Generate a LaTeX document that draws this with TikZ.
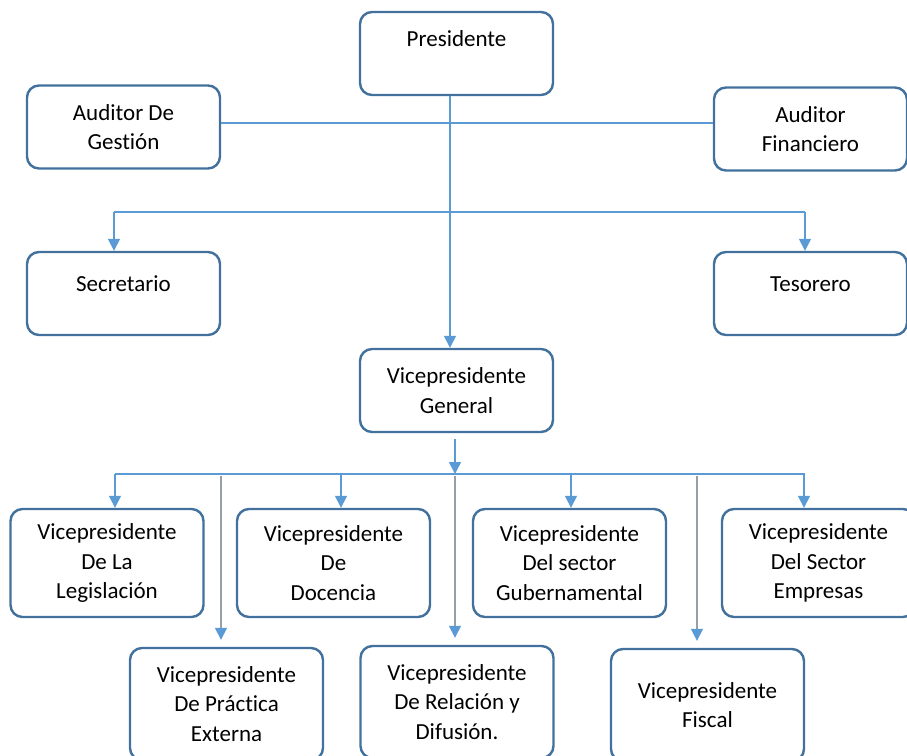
\documentclass[tikz,border=0pt]{standalone}
\usepackage{fontspec}
\setmainfont{Carlito}[Ligatures=NoCommon]
\usetikzlibrary{arrows.meta}
\definecolor{boxblue}{RGB}{65,113,156}
\definecolor{linkblue}{RGB}{91,155,213}
\definecolor{linkgray}{RGB}{150,158,168}
\newcommand{\widthbox}{96.5pt}
\newcommand{\heightbox}{41.5pt}
\newcommand{\heightvp}{54pt}
\newcommand{\heightvplow}{56pt}
\tikzset{
    org/.style={draw=boxblue, line width=1.2pt, rounded corners=6pt, fill=white,
        align=center, inner sep=0pt, minimum width=\widthbox, minimum height=\heightbox,
        font=\fontsize{11.5}{14.75}\selectfont},
    vp/.style={org, minimum height=\heightvp},
    vplow/.style={org, minimum height=\heightvplow},
    link/.style={linkblue, line width=0.75pt},
    linkarrow/.style={link, -{Triangle[width=6pt, length=6pt]}},
    droparrow/.style={link, draw=linkgray, -{Triangle[width=6pt, length=6pt, color=linkblue]}}
}
\begin{document}
\begin{tikzpicture}[x=0.5pt, y=-0.5pt]
    \useasboundingbox (0,0) rectangle (907,756);
    \clip (0,0) rectangle (907,756);

    % top of the chart
    \node[org] (pres) at (456.5,53.5) {Presidente\\ \mbox{}};
    \node[org] (agest) at (123.5,127) {Auditor De\\Gestión};
    \node[org] (afin) at (810.5,129) {Auditor\\Financiero};
    \node[org] (sec) at (123.5,293.5) {Secretario\\[-5pt] \mbox{}};
    \node[org] (tes) at (810.5,293.5) {Tesorero\\[-5pt] \mbox{}};
    \node[org] (vpg) at (456.5,390.5) {Vicepresidente\\General};

    % vicepresidents
    \node[vp] (leg) at (107,563) {Vicepresidente\\De La\\Legislación};
    \node[vp] (doc) at (333.5,563) {Vicepresidente\\De\\Docencia};
    \node[vp] (gub) at (569.5,563) {Vicepresidente\\Del sector\\Gubernamental};
    \node[vp] (emp) at (818.5,563) {Vicepresidente\\Del Sector\\Empresas};
    \node[vplow] (prac) at (226.5,704) {Vicepresidente\\De Práctica\\Externa};
    \node[vplow] (rel) at (457,702) {Vicepresidente\\De Relación y\\Difusión.};
    \node[vplow] (fis) at (707.5,705) {Vicepresidente\\Fiscal};

    \coordinate (trunk) at (450,0);
    \coordinate (audit) at (0,123);
    \draw[linkarrow] (pres.south -| trunk) -- (vpg.north -| trunk);
    \draw[link] (agest.east |- audit) -- (afin.west |- audit);

    \coordinate (bus-top-w) at (114,212);
    \coordinate (bus-top-e) at (805,212);
    \draw[link] (bus-top-w) -- (bus-top-e);
    \draw[linkarrow] (bus-top-w) -- (bus-top-w |- sec.north);
    \draw[linkarrow] (bus-top-e) -- (bus-top-e |- tes.north);

    \coordinate (vg-drop) at (455,474);
    \coordinate (bus-vp-w) at (115,474);
    \coordinate (bus-vp-e) at (805,474);
    \draw[linkarrow] ([yshift=-3pt]vpg.south -| vg-drop) -- (vg-drop);
    \draw[link] (bus-vp-w) -- (bus-vp-e);
    \foreach \x/\n in {115/leg, 341/doc, 571/gub, 804/emp} {
        \coordinate (tap-\n) at (\x,474);
        \draw[linkarrow] (tap-\n) -- (tap-\n |- \n.north);
    }
    \foreach \x/\n in {221/prac, 455/rel, 697/fis} {
        \coordinate (tap-\n) at (\x,476);
        \draw[droparrow] (tap-\n) -- ([yshift=3.5pt]\n.north -| tap-\n);
    }
\end{tikzpicture}
\end{document}
